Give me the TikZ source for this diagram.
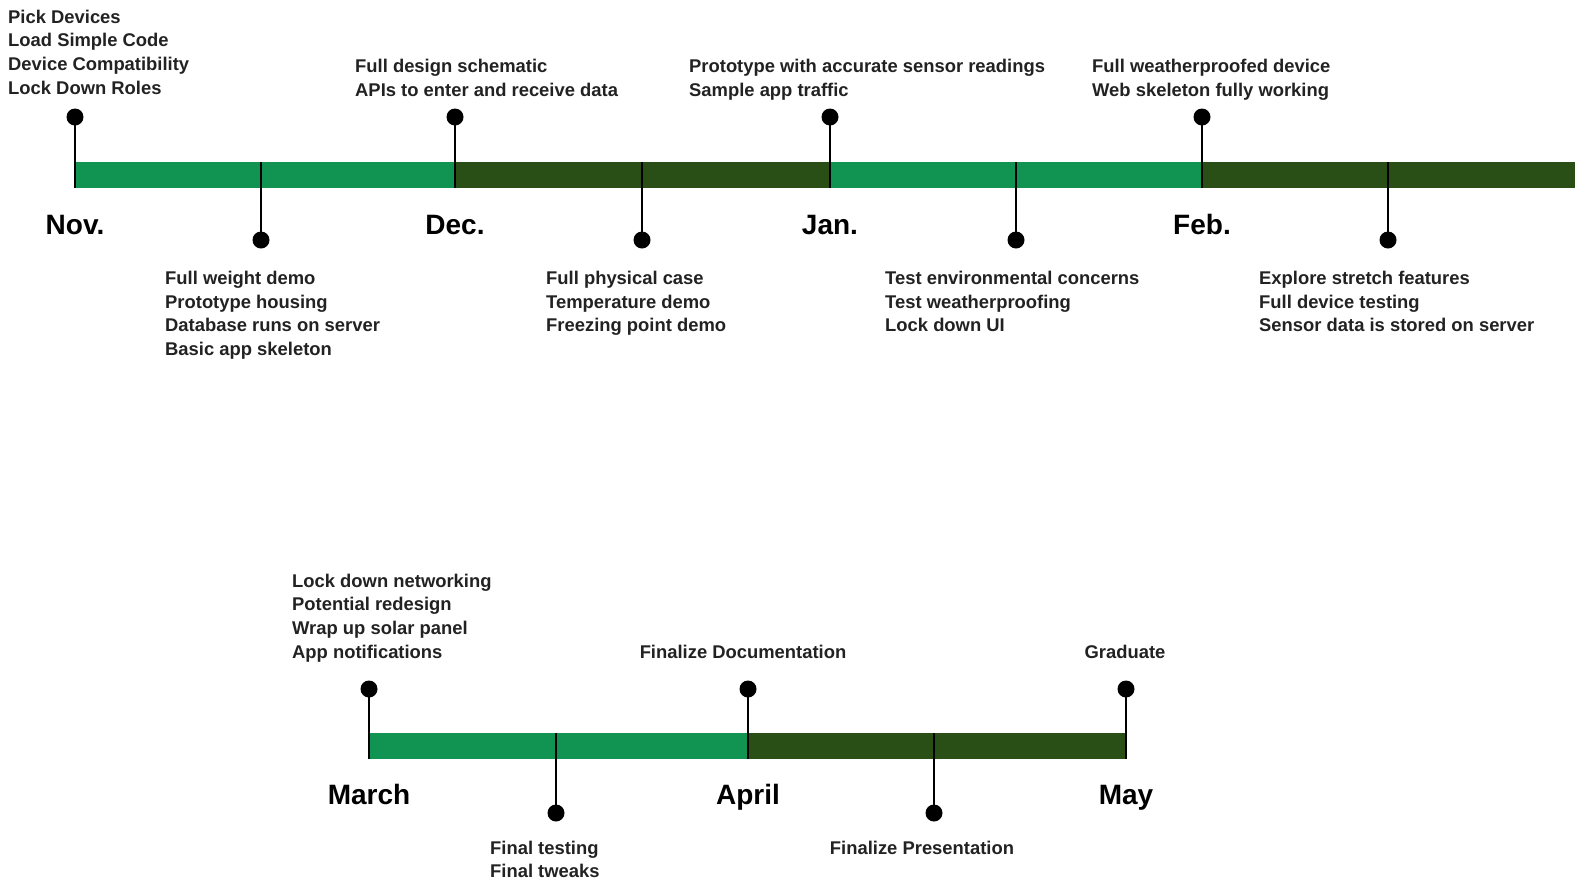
\documentclass[tikz,border=0pt]{standalone}
\usepackage{fontspec}
\setmainfont{Liberation Sans}
\definecolor{lgreen}{HTML}{119352}
\definecolor{dgreen}{HTML}{294F16}
\definecolor{txt}{HTML}{222222}
\begin{document}
\begin{tikzpicture}[x=1pt,y=-1pt,
  dot/.style={circle,fill=black,inner sep=0pt,minimum size=17pt},
  stem/.style={line width=2pt,black},
  lbl/.style={font=\bfseries\fontsize{18.4}{23.8}\selectfont,text=txt,align=left,anchor=north west,inner sep=0pt},
  lblc/.style={lbl,anchor=north,align=center},
  month/.style={font=\bfseries\fontsize{28}{30}\selectfont,text=black,inner sep=0pt,anchor=base}]
\useasboundingbox (0,0) rectangle (1575,879);
\fill[white] (0,0) rectangle (1575,879);
% ---------- top timeline ----------
\coordinate (a0) at (75,162);   \coordinate (a0b) at (75,188);
\coordinate (a1) at (455,162);  \coordinate (a1b) at (455,188);
\coordinate (a2) at (830,162);  \coordinate (a2b) at (830,188);
\coordinate (a3) at (1202,162); \coordinate (a3b) at (1202,188);
\coordinate (a4) at (1575,162); \coordinate (a4b) at (1575,188);
\fill[lgreen] (a0) rectangle (a1b);
\fill[dgreen] (a1) rectangle (a2b);
\fill[lgreen] (a2) rectangle (a3b);
\fill[dgreen] (a3) rectangle (a4b);
\coordinate (m0) at (261,162);
\coordinate (m1) at (642,162);
\coordinate (m2) at (1016,162);
\coordinate (m3) at (1388,162);
% top markers
\node[dot] (d0) at (75,117) {};
\node[dot] (d1) at (455,117) {};
\node[dot] (d2) at (830,117) {};
\node[dot] (d3) at (1202,117) {};
\draw[stem] (d0.center) -- (a0b);
\draw[stem] (d1.center) -- (a1b);
\draw[stem] (d2.center) -- (a2b);
\draw[stem] (d3.center) -- (a3b);
% mid markers
\node[dot] (e0) at (261,240) {};
\node[dot] (e1) at (642,240) {};
\node[dot] (e2) at (1016,240) {};
\node[dot] (e3) at (1388,240) {};
\draw[stem] (m0) -- (e0.center);
\draw[stem] (m1) -- (e1.center);
\draw[stem] (m2) -- (e2.center);
\draw[stem] (m3) -- (e3.center);
% months
\node[month] (nov) at (75,234.5) {Nov.};
\node[month] (dec) at (455,234.5) {Dec.};
\node[month] (jan) at (830,234.5) {Jan.};
\node[month] (feb) at (1202,234.5) {Feb.};
% labels
\node[lbl] (t0) at (8,9.5) {Pick Devices\\Load Simple Code\\Device Compatibility\\Lock Down Roles};
\node[lbl] (t1) at (355,58.8) {Full design schematic\\APIs to enter and receive data};
\node[lbl] (t2) at (689,58.8) {Prototype with accurate sensor readings\\Sample app traffic};
\node[lbl] (t3) at (1092,58.8) {Full weatherproofed device\\Web skeleton fully working};
\node[lbl] (b0) at (165,270.7) {Full weight demo\\Prototype housing\\Database runs on server\\Basic app skeleton};
\node[lbl] (b1) at (546,270.7) {Full physical case\\Temperature demo\\Freezing point demo};
\node[lbl] (b2) at (885,270.7) {Test environmental concerns\\Test weatherproofing\\Lock down UI};
\node[lbl] (b3) at (1259,270.7) {Explore stretch features\\Full device testing\\Sensor data is stored on server};
% ---------- bottom timeline ----------
\coordinate (c0) at (369,733);  \coordinate (c0b) at (369,759);
\coordinate (c1) at (748,733);  \coordinate (c1b) at (748,759);
\coordinate (c2) at (1126,733); \coordinate (c2b) at (1126,759);
\fill[lgreen] (c0) rectangle (c1b);
\fill[dgreen] (c1) rectangle (c2b);
\coordinate (n0) at (556,733);
\coordinate (n1) at (934,733);
\node[dot] (f0) at (369,689) {};
\node[dot] (f1) at (748,689) {};
\node[dot] (f2) at (1126,689) {};
\draw[stem] (f0.center) -- (c0b);
\draw[stem] (f1.center) -- (c1b);
\draw[stem] (f2.center) -- (c2b);
\node[dot] (g0) at (556,813) {};
\node[dot] (g1) at (934,813) {};
\draw[stem] (n0) -- (g0.center);
\draw[stem] (n1) -- (g1.center);
\node[month] (mar) at (369,804.5) {March};
\node[month] (apr) at (748,804.5) {April};
\node[month] (may) at (1126,804.5) {May};
\node[lbl] (u0) at (292,573.5) {Lock down networking\\Potential redesign\\Wrap up solar panel\\App notifications};
\node[lblc] (u1) at (743,644.5) {Finalize Documentation};
\node[lblc] (u2) at (1125,644.5) {Graduate};
\node[lbl] (v0) at (490,840.5) {Final testing\\Final tweaks};
\node[lblc] (v1) at (922,840.5) {Finalize Presentation};
\end{tikzpicture}
\end{document}
